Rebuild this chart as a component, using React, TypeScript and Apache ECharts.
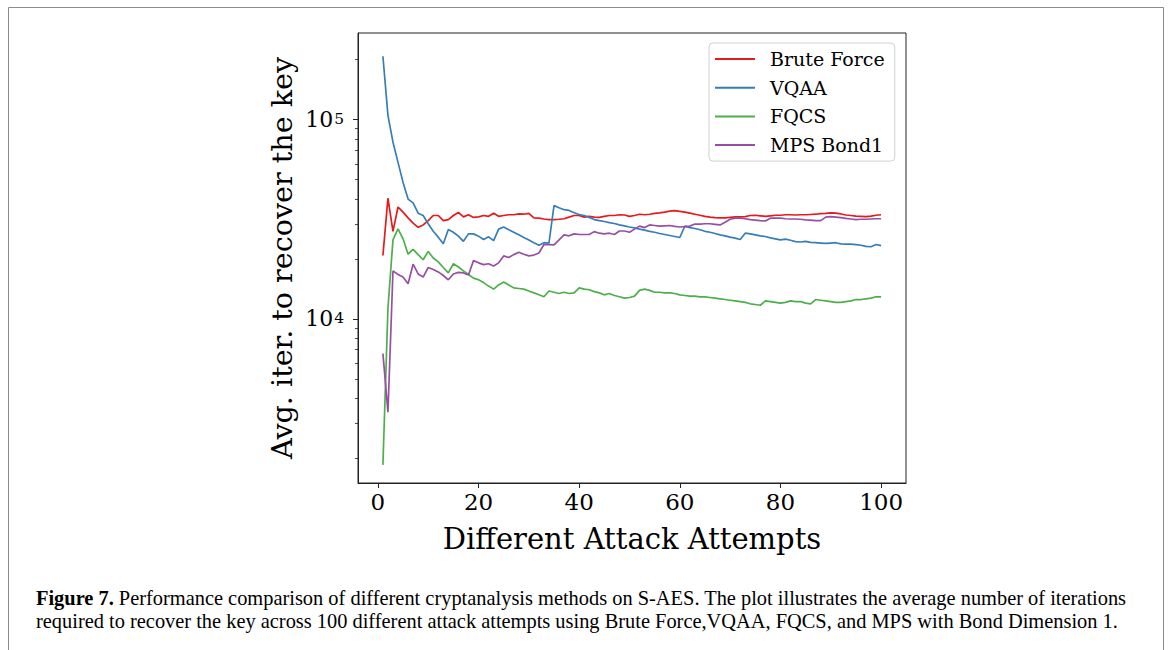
import React, { useEffect, useRef } from "react";
import * as echarts from "echarts";

// Attempt index (x categories)
const attempts: number[] = Array.from({ length: 100 }, (_, i) => i + 1);

const seriesNames = ["Brute Force", "VQAA", "FQCS", "MPS Bond1"];
const seriesColors = ["#e41a1c", "#377eb8", "#4daf4a", "#984ea3"];

const bruteForce = [
  20800, 40300, 27500, 36400, 34300, 32100, 30200, 28800, 29600, 31100,
  33000, 33000, 31100, 31500, 33000, 34200, 32500, 33300, 32300, 32500,
  33000, 32700, 33900, 32700, 33000, 33300, 33300, 33600, 33500, 33800,
  32100, 32000, 31700, 31500, 31500, 31600, 31800, 32400, 33000, 33000,
  32400, 32700, 32400, 32300, 32700, 33000, 33000, 33300, 33200, 32700,
  33000, 33500, 33300, 33500, 33800, 34000, 34300, 34700, 34900, 34600,
  34300, 33900, 33500, 33100, 32700, 32400, 32200, 32100, 32100, 32300,
  32500, 32500, 32600, 33000, 33100, 32900, 32700, 32900, 33100, 33100,
  33300, 33300, 33200, 33300, 33300, 33400, 33500, 33700, 33800, 34000,
  33900, 33600, 33200, 33000, 32800, 32700, 32600, 32800, 33100, 33300,
];

const vqaa = [
  208000, 105000, 77000, 61000, 48400, 39900, 38200, 33900, 33000, 30000,
  27500, 25700, 23800, 28100, 27200, 26000, 24500, 26700, 26700, 26000,
  25000, 25800, 24700, 28200, 28900, 28000, 27200, 26400, 25600, 24900,
  24100, 23400, 24100, 24000, 37000, 36100, 35300, 35000, 34100, 33400,
  33000, 32300, 31500, 31100, 30800, 30400, 30100, 29600, 29300, 28900,
  28600, 28200, 27900, 27500, 27200, 26800, 26500, 26200, 25900, 25600,
  29200, 28700, 28400, 28000, 27500, 27200, 26800, 26400, 26100, 25700,
  25400, 25000, 26900, 26700, 26400, 26100, 25900, 25500, 25200, 24900,
  25100, 24800, 24400, 24300, 24500, 24200, 24100, 24000, 23900, 24000,
  24100, 23800, 23700, 23700, 23600, 23400, 23100, 23000, 23600, 23300,
];

const fqcs = [
  1850, 11300, 24900, 28300, 25200, 21100, 22300, 21000, 19800, 21800,
  20200, 19300, 18100, 17000, 18900, 18200, 17400, 16700, 16000, 15700,
  15200, 14600, 14100, 14800, 15300, 14800, 14300, 14200, 14100, 13800,
  13500, 13200, 12900, 13800, 13600, 13400, 13600, 13400, 13500, 14300,
  14100, 14000, 13700, 13500, 13200, 13400, 13100, 12900, 12700, 12800,
  13000, 13900, 14100, 13900, 13600, 13600, 13500, 13500, 13400, 13200,
  13100, 13000, 13000, 12900, 12900, 12800, 12700, 12600, 12500, 12400,
  12300, 12200, 12100, 11900, 11800, 11700, 12300, 12200, 12100, 12000,
  12100, 12300, 12200, 12200, 12000, 11900, 12500, 12400, 12300, 12200,
  12100, 12100, 12200, 12300, 12500, 12500, 12600, 12700, 12900, 12900,
];

const mpsBond1 = [
  6700, 3400, 17400, 16700, 16200, 15000, 18800, 16800, 16200, 18100,
  17700, 17200, 16500, 15700, 16800, 17100, 17000, 16600, 19600, 19100,
  18700, 18900, 18400, 19100, 20700, 20300, 21000, 21600, 21100, 20700,
  20900, 21400, 23600, 23600, 23500, 24900, 26400, 26100, 26700, 26500,
  26500, 26500, 27400, 26900, 26700, 26900, 26500, 27600, 27600, 27200,
  28200, 29200, 28700, 29600, 29400, 29200, 29300, 29400, 29100, 28900,
  29000, 29200, 29900, 29900, 30000, 30000, 29800, 29600, 30500, 31600,
  32000, 32000, 31800, 31500, 31300, 31100, 31000, 32000, 32000, 32000,
  31800, 31700, 31700, 31600, 31400, 31300, 31100, 31100, 32400, 32600,
  32400, 32200, 31900, 31700, 31500, 31600, 31600, 31700, 31800, 31800,
];

const xTicks = [0, 20, 40, 60, 80, 100];
const yMajorTicks = [10000, 100000];
const yMinorTicks = [
  2000, 3000, 4000, 5000, 6000, 7000, 8000, 9000,
  20000, 30000, 40000, 50000, 60000, 70000, 80000, 90000,
  200000,
];

const X_MIN = -3.95;
const X_MAX = 104.95;
const Y_MIN = 1500;
const Y_MAX = 272000;

const xAxisTitle = "Different Attack Attempts";
const yAxisTitle = "Avg. iter. to recover the key";
const captionBold = "Figure 7.";
const captionLine1 =
  " Performance comparison of different cryptanalysis methods on S-AES. The plot illustrates the average number of iterations";
const captionLine2 =
  "required to recover the key across 100 different attack attempts using Brute Force,VQAA, FQCS, and MPS with Bond Dimension 1.";

const SERIF = "'DejaVu Serif', serif";
const CAPTION_FONT = "'Liberation Serif', 'Times New Roman', serif";

export default function App() {
  const ref = useRef<HTMLDivElement>(null);

  useEffect(() => {
    if (!ref.current) return;
    const chart = echarts.init(ref.current, null, { renderer: "svg" });
    const lg = (v: number) => Math.log10(v);
    const allSeries = [bruteForce, vqaa, fqcs, mpsBond1];

    chart.setOption({
      animation: false,
      backgroundColor: "#ffffff",
      grid: {
        left: 358,
        right: 1171 - 906,
        top: 33,
        bottom: 650 - 483,
        show: true,
        borderColor: "#222",
        borderWidth: 1,
        backgroundColor: "transparent",
      },
      legend: {
        data: seriesNames,
        orient: "vertical",
        left: 709,
        top: 43,
        icon: "rect",
        itemWidth: 40,
        itemHeight: 2,
        itemGap: 8.7,
        padding: [6, 10, 6, 6],
        borderColor: "#d0d0d0",
        borderWidth: 1,
        borderRadius: 4,
        backgroundColor: "rgba(255,255,255,0.8)",
        textStyle: {
          fontFamily: SERIF,
          fontSize: 19,
          color: "#000",
          lineHeight: 20,
          padding: [0, 0, 0, 10],
        },
      },
      xAxis: {
        type: "value",
        min: X_MIN,
        max: X_MAX,
        name: xAxisTitle,
        nameLocation: "middle",
        nameGap: 41,
        nameTextStyle: { fontFamily: SERIF, fontSize: 29, color: "#000" },
        axisLine: { show: true, onZero: false, lineStyle: { color: "#222", width: 1 } },
        axisTick: {
          show: true,
          length: 5,
          customValues: xTicks,
          lineStyle: { color: "#222", width: 1 },
        },
        axisLabel: {
          customValues: xTicks,
          fontFamily: SERIF,
          fontSize: 23,
          color: "#000",
          margin: 7,
        },
        splitLine: { show: false },
      },
      yAxis: [
        {
          type: "value",
          min: lg(Y_MIN),
          max: lg(Y_MAX),
          position: "left",
          name: yAxisTitle,
          nameLocation: "middle",
          nameGap: 62,
          nameTextStyle: { fontFamily: SERIF, fontSize: 28.6, color: "#000" },
          axisLine: { show: true, onZero: false, lineStyle: { color: "#222", width: 1 } },
          axisTick: {
            show: true,
            length: 5,
            customValues: yMajorTicks.map(lg),
            lineStyle: { color: "#222", width: 1 },
          },
          axisLabel: {
            customValues: yMajorTicks.map(lg),
            margin: 14,
            formatter: (v: number) => `{a|10}{b|${Math.round(v)}}`,
            rich: {
              a: {
                fontFamily: SERIF,
                fontSize: 22,
                color: "#000",
                lineHeight: 22,
                padding: [6, 0, 0, 0],
                verticalAlign: "bottom",
              },
              b: {
                fontFamily: SERIF,
                fontSize: 15.5,
                color: "#000",
                lineHeight: 16,
                padding: [2, 0, 0, 1],
                verticalAlign: "top",
              },
            },
          },
          splitLine: { show: false },
        },
        {
          type: "value",
          min: lg(Y_MIN),
          max: lg(Y_MAX),
          position: "left",
          axisLine: { show: false, onZero: false },
          axisTick: {
            show: true,
            length: 3,
            customValues: yMinorTicks.map(lg),
            lineStyle: { color: "#222", width: 0.8 },
          },
          axisLabel: { show: false },
          splitLine: { show: false },
        },
      ],
      series: allSeries.map((arr, k) => ({
        name: seriesNames[k],
        type: "line",
        yAxisIndex: 0,
        symbol: "none",
        showSymbol: false,
        color: seriesColors[k],
        lineStyle: { color: seriesColors[k], width: 1.7 },
        data: arr.map((v, i) => [attempts[i], lg(v)]),
      })),
      graphic: [
        {
          type: "rect",
          silent: true,
          shape: { x: 8.5, y: 7.5, width: 1155, height: 700 },
          style: { fill: "none", stroke: "#8c8c8c", lineWidth: 1 },
        },
        {
          type: "text",
          silent: true,
          left: 36,
          top: 588,
          style: {
            text: `{b|${captionBold}}{n|${captionLine1}}\n{n|${captionLine2}}`,
            rich: {
              b: {
                fontFamily: CAPTION_FONT,
                fontSize: 20.4,
                fontWeight: "bold",
                fill: "#000",
                lineHeight: 23,
              },
              n: {
                fontFamily: CAPTION_FONT,
                fontSize: 20.4,
                fill: "#000",
                lineHeight: 23,
              },
            },
          },
        },
      ],
    });

    return () => chart.dispose();
  }, []);

  return (
    <div
      ref={ref}
      style={{
        position: "fixed",
        left: 0,
        top: 0,
        width: 1171,
        height: 650,
        background: "#fff",
      }}
    />
  );
}
